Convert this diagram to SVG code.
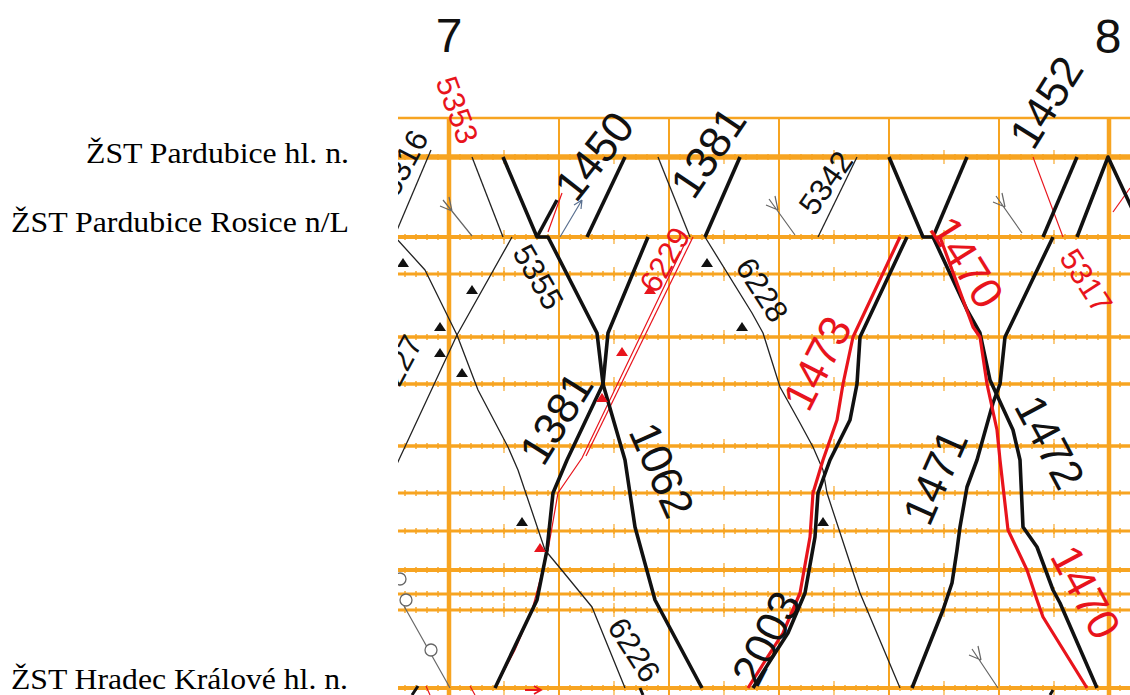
<svg xmlns="http://www.w3.org/2000/svg" xmlns:xlink="http://www.w3.org/1999/xlink" width="1130" height="695" viewBox="0 0 1130 695">
<style>
.st{font-family:"Liberation Serif","Times New Roman",serif;font-size:29px;fill:#000}
.hr{font-family:"Liberation Sans",Arial,sans-serif;font-size:48px;fill:#111}
.big{font-family:"Liberation Sans",Arial,sans-serif;font-size:44px;fill:#111}
.sm{font-family:"Liberation Sans",Arial,sans-serif;font-size:31px;fill:#111}
.red{fill:#e8141c}
.h{stroke:#f7a421;fill:none}
.v{stroke:#f7a421;fill:none}
.t1{stroke:#f7a421;stroke-width:6;stroke-dasharray:1.4 9.6;stroke-dashoffset:4.7;fill:none}
.t5{stroke:#f7a421;stroke-width:14;stroke-dasharray:1.4 53.6;stroke-dashoffset:4.7;fill:none;opacity:.8}
.tb{stroke:#111;stroke-width:3.6;fill:none;stroke-linejoin:round}
.tn{stroke:#222;stroke-width:1.3;fill:none;stroke-linejoin:round}
.rb{stroke:#e8141c;stroke-width:3.2;fill:none;stroke-linejoin:round}
.rn{stroke:#e8141c;stroke-width:1.2;fill:none}
.gr{stroke:#666;stroke-width:1.2;fill:none}
.ci{stroke:#666;stroke-width:1.3;fill:#fff}
</style>
<defs>
<clipPath id="area"><rect x="398" y="0" width="732" height="695"/></clipPath>
<path id="tri" d="M0,-5 L6,4 L-6,4 Z"/>
</defs>
<rect width="1130" height="695" fill="#fff"/>

<g id="station-pardubice-hl" class="node"><text class="st" x="349" y="163" text-anchor="end" textLength="263" lengthAdjust="spacingAndGlyphs">ŽST Pardubice hl. n.</text></g>
<g id="station-pardubice-rosice" class="node"><text class="st" x="349" y="232" text-anchor="end" textLength="338" lengthAdjust="spacingAndGlyphs">ŽST Pardubice Rosice n/L</text></g>
<g id="station-hradec" class="node"><text class="st" x="348" y="689" text-anchor="end" textLength="337" lengthAdjust="spacingAndGlyphs">ŽST Hradec Králové hl. n.</text></g>

<g id="hours">
<text class="hr" x="449" y="52" text-anchor="middle">7</text>
<text class="hr" x="1108" y="53" text-anchor="middle">8</text>
</g>

<g id="grid" clip-path="url(#area)">
<g class="v">
<line x1="449" y1="118" x2="449" y2="695" stroke-width="4.5"/>
<line x1="559" y1="118" x2="559" y2="695" stroke-width="2"/>
<line x1="669" y1="118" x2="669" y2="695" stroke-width="2"/>
<line x1="779" y1="118" x2="779" y2="695" stroke-width="2"/>
<line x1="889" y1="118" x2="889" y2="695" stroke-width="2"/>
<line x1="999" y1="118" x2="999" y2="695" stroke-width="2"/>
<line x1="1109" y1="118" x2="1109" y2="695" stroke-width="4.5"/>
</g>
<g class="h">
<line x1="398" y1="118" x2="1130" y2="118" stroke-width="2.5"/>
<line x1="398" y1="157" x2="1130" y2="157" stroke-width="5.5"/>
<line x1="398" y1="237" x2="1130" y2="237" stroke-width="4"/>
<line x1="398" y1="274" x2="1130" y2="274" stroke-width="3"/>
<line x1="398" y1="337" x2="1130" y2="337" stroke-width="3.5"/>
<line x1="398" y1="384" x2="1130" y2="384" stroke-width="3.5"/>
<line x1="398" y1="446" x2="1130" y2="446" stroke-width="3.5"/>
<line x1="398" y1="493" x2="1130" y2="493" stroke-width="3"/>
<line x1="398" y1="531" x2="1130" y2="531" stroke-width="3"/>
<line x1="398" y1="570" x2="1130" y2="570" stroke-width="4"/>
<line x1="398" y1="594" x2="1130" y2="594" stroke-width="3"/>
<line x1="398" y1="610" x2="1130" y2="610" stroke-width="3"/>
<line x1="398" y1="688" x2="1130" y2="688" stroke-width="4"/>
</g>
<path class="t1" d="M398,157H1130M398,237H1130M398,274H1130M398,337H1130M398,384H1130M398,446H1130M398,493H1130M398,531H1130M398,570H1130M398,594H1130M398,610H1130M398,688H1130"/>
<path class="t5" d="M398,157H1130M398,237H1130M398,274H1130M398,337H1130M398,384H1130M398,446H1130M398,493H1130M398,531H1130M398,570H1130M398,594H1130M398,610H1130M398,688H1130"/>
</g>

<g id="connectors" clip-path="url(#area)">
<g class="tn">
<path d="M431,150 L395,235"/>
<path d="M472,157 L503,237"/>
<path d="M396,466 L457,335 L512,237"/>
<path d="M396,238 L425,270 L457,335 L478,390 L508,447 L518,470 L545,550 L560,568 L592,607 L625,688"/>
<path d="M658,157 L690,237"/>
<path d="M705,237 L752,313 L763,333 L780,387 L800,423 L813,447 L823,470 L827,493 L850,563 L860,593 L900,688"/>
<path d="M818,237 L857,157"/>
</g>
<g class="rn">
<path d="M495,688 L515,650 L532,610 L548,550 L558,493 L582,458 L688,237"/>
<path d="M586,456 L693,237"/>
<path d="M548,232 L562,193"/>
<path d="M1033,157 L1063,237"/>
<path d="M1113,212 L1130,188"/>
<path d="M426,686 L430,695 M470,686 L475,695"/>
<path d="M525,690 L541,690 M534,686 L541,690 L534,694" stroke-width="1.8"/>
</g>
<g class="tb">
<path d="M503,157 L537,237 L548,237 L597,333 L603,384 L625,460 L635,527 L655,600 L702,688"/>
<path d="M495,688 L537,600 L547,550 L553,493 L567,460 L603,384 L608,333 L648,237"/>
<path d="M537,237 L557,200"/>
<path d="M587,237 L625,157"/>
<path d="M705,237 L740,157"/>
<path d="M753,688 L777,650 L788,633 L805,593 L815,537 L818,493 L830,460 L850,420 L857,384 L860,337 L907,237"/>
<path d="M889,157 L923,237 L933,237 L967,310 L980,333 L990,380 L1013,430 L1020,460 L1023,527 L1037,547 L1053,590 L1060,603 L1097,688"/>
<path d="M933,237 L967,157"/>
<path d="M912,688 L943,610 L952,583 L957,550 L960,527 L967,487 L977,460 L993,403 L1000,384 L1005,337 L1053,237"/>
<path d="M1043,237 L1077,157"/>
<path d="M1077,237 L1108,157 L1135,215"/>
<path d="M412,695 L418,686 M640,688 L643,695 M1053,690 L1050,695" stroke-width="3"/>
</g>
<g class="rb">
<path d="M748,688 L772,650 L783,633 L800,593 L810,537 L813,493 L823,460 L837,420 L843,384 L853,337 L900,237"/>
<path d="M940,237 L973,327 L980,337 L987,384 L997,430 L1000,460 L1008,530 L1027,570 L1037,600 L1043,617 L1087,688"/>
</g>
<g class="gr">
<path d="M443,200 L472,236 M452,211 L449,197 M452,211 L440,206"/>
<path d="M769,199 L795,235 M778,210 L775,196 M778,210 L766,205"/>
<path d="M996,196 L1022,233 M1005,207 L1002,193 M1005,207 L993,202"/>
<path d="M972,649 L998,688 M981,660 L978,646 M981,660 L969,655"/>
<path d="M560,237 L582,200 M582,200 L574,205 M582,200 L581,209" stroke="#5a7090"/>
<path d="M404,606 L450,688"/>
</g>
<circle class="ci" cx="400" cy="579" r="6"/>
<circle class="ci" cx="406" cy="600" r="6"/>
<circle class="ci" cx="431" cy="650" r="6"/>
<g fill="#111">
<use xlink:href="#tri" x="403" y="263"/>
<use xlink:href="#tri" x="472" y="290"/>
<use xlink:href="#tri" x="440" y="327"/>
<use xlink:href="#tri" x="440" y="353"/>
<use xlink:href="#tri" x="462" y="373"/>
<use xlink:href="#tri" x="707" y="263"/>
<use xlink:href="#tri" x="742" y="327"/>
<use xlink:href="#tri" x="522" y="522"/>
<use xlink:href="#tri" x="823" y="522"/>
</g>
<g fill="#e8141c">
<use xlink:href="#tri" x="650" y="290"/>
<use xlink:href="#tri" x="622" y="352"/>
<use xlink:href="#tri" x="602" y="398"/>
<use xlink:href="#tri" x="540" y="548"/>
</g>
</g>

<g id="labels" clip-path="url(#area)">
<text class="sm red" transform="translate(457,110) rotate(70)" text-anchor="middle" dominant-baseline="central">5353</text>
<text class="sm" transform="translate(404,163) rotate(-62)" text-anchor="middle" dominant-baseline="central">5316</text>
<text class="big" transform="translate(594,156) rotate(-52)" text-anchor="middle" dominant-baseline="central">1450</text>
<text class="big" transform="translate(708,152) rotate(-56)" text-anchor="middle" dominant-baseline="central">1381</text>
<text class="sm" transform="translate(826,183) rotate(-55)" text-anchor="middle" dominant-baseline="central">5342</text>
<text class="big" transform="translate(1046,102) rotate(-58)" text-anchor="middle" dominant-baseline="central">1452</text>
<text class="sm" transform="translate(538,277) rotate(60)" text-anchor="middle" dominant-baseline="central">5355</text>
<text class="sm red" transform="translate(665,260) rotate(-60)" text-anchor="middle" dominant-baseline="central">6229</text>
<text class="sm" transform="translate(762,290) rotate(57)" text-anchor="middle" dominant-baseline="central">6228</text>
<text class="sm" transform="translate(398,368) rotate(-62)" text-anchor="middle" dominant-baseline="central">6227</text>
<text class="big" transform="translate(556,418) rotate(-58)" text-anchor="middle" dominant-baseline="central">1381</text>
<text class="big" transform="translate(662,470) rotate(66)" text-anchor="middle" dominant-baseline="central">1062</text>
<text class="big red" transform="translate(817,363) rotate(-63)" text-anchor="middle" dominant-baseline="central">1473</text>
<text class="big red" transform="translate(967,262) rotate(58)" text-anchor="middle" dominant-baseline="central">1470</text>
<text class="sm red" transform="translate(1086,281) rotate(57)" text-anchor="middle" dominant-baseline="central">5317</text>
<text class="big" transform="translate(1050,442) rotate(62)" text-anchor="middle" dominant-baseline="central">1472</text>
<text class="big" transform="translate(935,477) rotate(-66)" text-anchor="middle" dominant-baseline="central">1471</text>
<text class="big" transform="translate(766,638) rotate(-63)" text-anchor="middle" dominant-baseline="central">2003</text>
<text class="sm" transform="translate(634,650) rotate(57)" text-anchor="middle" dominant-baseline="central">6226</text>
<text class="big red" transform="translate(1086,592) rotate(62)" text-anchor="middle" dominant-baseline="central" font-size="42">1470</text>
</g>
</svg>
